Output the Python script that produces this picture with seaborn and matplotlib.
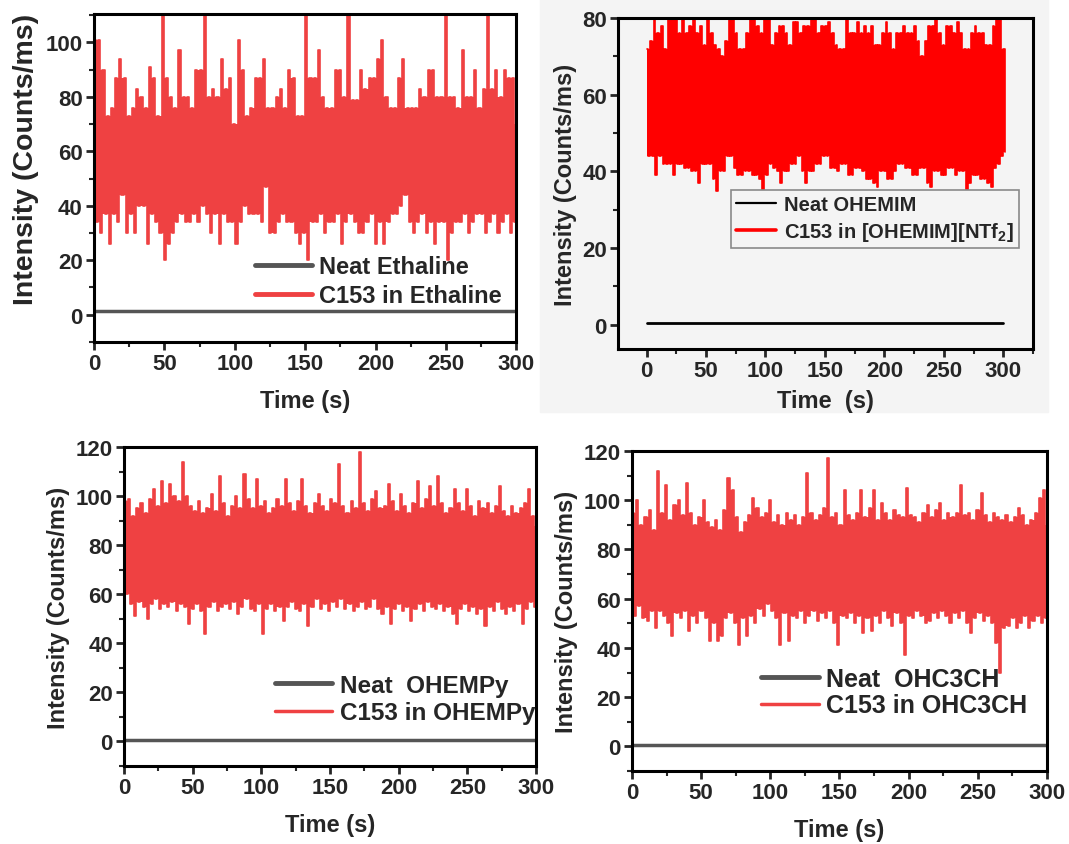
import numpy as np
import matplotlib
matplotlib.use("Agg")
import matplotlib.pyplot as plt
from matplotlib.lines import Line2D
from matplotlib.patches import Rectangle
from matplotlib.ticker import MultipleLocator
import seaborn as sns

# sampling grid of the traces (s), one envelope value every 3 s
TIME = np.arange(0, 301, 3)
NEAT_T = [0, 50, 100, 150, 200, 250, 300]

# Ethaline (top left) - upper / lower envelope of the C153 trace
ETH_HI = [101, 101, 90, 73, 76, 87, 94, 87, 73, 76,
          83, 80, 76, 91, 87, 73, 110, 87, 80, 76,
          97, 80, 80, 76, 90, 90, 110, 80, 83, 80,
          94, 83, 87, 70, 101, 90, 73, 76, 87, 87,
          94, 76, 76, 80, 83, 76, 90, 87, 73, 73,
          110, 87, 87, 97, 80, 76, 76, 90, 90, 80,
          110, 79, 79, 90, 83, 87, 87, 94, 101, 80,
          76, 76, 87, 94, 76, 76, 76, 83, 80, 90,
          90, 80, 80, 110, 80, 80, 76, 97, 80, 80,
          90, 76, 83, 110, 83, 90, 80, 90, 87, 87,
          70]
ETH_LO = [34, 30, 37, 26, 37, 34, 44, 30, 37, 30,
          40, 40, 26, 37, 34, 30, 20, 26, 30, 34,
          37, 34, 34, 37, 34, 40, 37, 30, 37, 26,
          37, 34, 34, 26, 34, 40, 37, 37, 37, 34,
          47, 30, 30, 34, 37, 34, 34, 30, 26, 30,
          20, 34, 34, 37, 30, 34, 34, 37, 26, 34,
          37, 34, 30, 30, 34, 37, 26, 34, 26, 34,
          37, 37, 40, 44, 34, 30, 34, 37, 30, 34,
          26, 34, 34, 20, 30, 34, 34, 37, 30, 34,
          37, 37, 30, 34, 37, 30, 34, 37, 30, 34,
          26]
ETH_NEAT = [1.4, 1.4, 1.4, 1.4, 1.4, 1.4, 1.4]

# [OHEMIM][NTf2] (top right)
IM_HI = [72, 74, 80, 76, 78, 72, 80, 80, 80, 76,
         80, 76, 78, 80, 76, 78, 73, 80, 76, 73,
         72, 70, 74, 80, 80, 76, 72, 72, 76, 80,
         80, 78, 76, 80, 80, 73, 76, 78, 78, 76,
         73, 79, 79, 76, 78, 78, 80, 80, 76, 78,
         78, 79, 76, 73, 72, 72, 80, 76, 76, 79,
         76, 78, 76, 78, 73, 73, 76, 79, 76, 72,
         76, 76, 78, 76, 76, 78, 74, 70, 74, 78,
         78, 80, 76, 73, 78, 78, 76, 79, 76, 72,
         72, 76, 78, 76, 76, 73, 73, 78, 80, 80,
         72]
IM_LO = [44, 44, 39, 44, 42, 42, 42, 39, 42, 42,
         41, 41, 40, 40, 37, 42, 42, 42, 38, 35,
         40, 40, 44, 44, 41, 39, 39, 40, 40, 39,
         39, 38, 35, 39, 42, 41, 40, 37, 40, 40,
         42, 42, 44, 40, 37, 40, 40, 42, 42, 44,
         44, 41, 41, 40, 42, 42, 39, 39, 41, 41,
         40, 38, 38, 37, 36, 40, 40, 38, 38, 40,
         42, 42, 41, 41, 39, 39, 41, 41, 37, 36,
         40, 40, 39, 39, 41, 41, 39, 40, 40, 35,
         37, 39, 39, 38, 38, 37, 36, 41, 42, 44,
         45]
IM_NEAT = [0.5, 0.5, 0.5, 0.5, 0.5, 0.5, 0.5]

# OHEMPy (bottom left)
PY_HI = [98, 99, 92, 95, 97, 93, 99, 103, 96, 106,
         97, 105, 100, 98, 114, 100, 96, 94, 98, 93,
         95, 101, 94, 108, 97, 92, 96, 100, 95, 109,
         99, 95, 107, 96, 98, 93, 95, 99, 96, 107,
         97, 94, 98, 107, 96, 93, 97, 101, 96, 94,
         99, 97, 113, 96, 93, 98, 95, 118, 97, 94,
         99, 102, 95, 96, 105, 98, 94, 101, 96, 93,
         97, 106, 95, 99, 104, 96, 108, 97, 93, 95,
         103, 97, 94, 103, 96, 92, 98, 95, 97, 93,
         96, 104, 94, 92, 96, 93, 95, 97, 103, 92,
         88]
PY_LO = [60, 56, 51, 57, 55, 50, 56, 58, 54, 56,
         55, 57, 53, 56, 55, 48, 54, 56, 53, 44,
         55, 57, 53, 55, 56, 54, 57, 52, 55, 58,
         54, 53, 56, 44, 54, 56, 53, 55, 49, 55,
         57, 54, 53, 56, 47, 55, 58, 54, 56, 53,
         57, 55, 58, 54, 56, 53, 55, 57, 54, 55,
         58, 54, 52, 55, 48, 54, 56, 53, 55, 49,
         54, 56, 53, 57, 55, 54, 56, 53, 55, 52,
         48, 54, 56, 53, 55, 52, 54, 47, 55, 53,
         57, 54, 52, 55, 53, 56, 48, 54, 57, 55,
         60]
PY_NEAT = [0.5, 0.5, 0.5, 0.5, 0.5, 0.5, 0.5]

# OHC3CH (bottom right)
CH_HI = [95, 100, 90, 93, 96, 88, 112, 95, 106, 92,
         98, 100, 94, 107, 95, 90, 93, 100, 91, 89,
         92, 88, 96, 109, 104, 93, 87, 91, 94, 101,
         97, 93, 95, 100, 91, 94, 90, 95, 92, 94,
         90, 93, 111, 95, 92, 94, 97, 117, 93, 95,
         90, 104, 94, 92, 95, 104, 93, 97, 104, 92,
         99, 95, 92, 96, 94, 93, 105, 94, 93, 91,
         95, 98, 93, 96, 99, 92, 95, 93, 95, 106,
         94, 95, 92, 96, 103, 94, 91, 95, 93, 92,
         94, 91, 93, 97, 94, 90, 92, 95, 101, 104,
         90]
CH_LO = [53, 57, 52, 51, 55, 48, 55, 53, 50, 45,
         54, 52, 55, 47, 53, 50, 55, 52, 43, 50,
         43, 45, 52, 54, 50, 41, 52, 45, 53, 50,
         56, 53, 58, 55, 52, 41, 54, 43, 53, 52,
         55, 50, 53, 55, 51, 54, 52, 55, 50, 41,
         53, 52, 54, 50, 53, 46, 52, 47, 53, 50,
         55, 52, 49, 54, 50, 37, 53, 52, 55, 53,
         50, 51, 54, 52, 55, 53, 50, 54, 52, 55,
         50, 46, 52, 54, 51, 53, 50, 42, 30, 48,
         49, 52, 48, 50, 53, 48, 51, 53, 50, 52,
         54]
CH_NEAT = [0.5, 0.5, 0.5, 0.5, 0.5, 0.5, 0.5]

RED = "#ef4142"
PURE_RED = "#ff0000"
GREY = "#555555"
PANEL_BG = "#f4f4f4"

sns.set_style("ticks")
plt.rcParams["font.family"] = ["Liberation Sans", "DejaVu Sans"]
plt.rcParams["font.weight"] = "bold"
plt.rcParams["axes.labelweight"] = "bold"
plt.rcParams["mathtext.fontset"] = "custom"
plt.rcParams["mathtext.rm"] = "Liberation Sans:bold"
plt.rcParams["mathtext.bf"] = "Liberation Sans:bold"
plt.rcParams["mathtext.default"] = "bf"
plt.rcParams["path.simplify"] = False


def draw_trace(ax, hi, lo, neat, red, neat_color, neat_lw):
    hi = np.asarray(hi, float)
    lo = np.asarray(lo, float)
    # each 3 s step: top value, then drop to the bottom value half a step later
    x = np.column_stack([TIME, TIME + 1.5]).ravel()
    y = np.column_stack([hi, lo]).ravel()
    # solid core between the vertical strokes of the trace
    hi_next = np.append(hi[1:], hi[-1])
    lo_prev = np.insert(lo[:-1], 0, lo[0])
    top = np.column_stack([hi, np.minimum(hi, hi_next)]).ravel()
    bot = np.column_stack([np.maximum(lo, lo_prev), lo]).ravel()
    ax.fill_between(x, bot, top, step="post", color=red, lw=0)
    sns.lineplot(x=x, y=y, ax=ax, color=red, lw=1.2, drawstyle="steps-post",
                 estimator=None, sort=False, legend=False)
    sns.lineplot(x=NEAT_T, y=neat, ax=ax, color=neat_color, lw=neat_lw,
                 estimator=None, sort=False, legend=False)


def style_axes(ax, xlim, ylim, yticks, xlabel="Time (s)", ylabel_size=17,
               xpad=11):
    ax.set_xlim(*xlim)
    ax.set_ylim(*ylim)
    ax.set_xticks([0, 50, 100, 150, 200, 250, 300])
    ax.set_yticks(yticks)
    ax.xaxis.set_minor_locator(MultipleLocator(25))
    ax.yaxis.set_minor_locator(MultipleLocator(10))
    ax.tick_params(which="major", direction="out", length=6, width=2,
                   labelsize=16, pad=2)
    ax.tick_params(which="minor", direction="out", length=3.5, width=1.5)
    for sp in ax.spines.values():
        sp.set_linewidth(2.2)
        sp.set_color("black")
    ax.set_xlabel(xlabel, fontsize=17, labelpad=xpad)
    ax.set_ylabel("Intensity (Counts/ms)", fontsize=ylabel_size, labelpad=4)


fig = plt.figure(figsize=(10.69, 8.45), dpi=100)
fig.patches.append(Rectangle((0.5051, 0.5112), 0.4752, 0.4888,
                             transform=fig.transFigure, color=PANEL_BG,
                             zorder=-5))

# top left: Ethaline
ax1 = fig.add_axes([0.0879, 0.5941, 0.3952, 0.3882])
draw_trace(ax1, ETH_HI, ETH_LO, ETH_NEAT, RED, GREY, 2.5)
style_axes(ax1, (0, 300), (-10, 110.4), [0, 20, 40, 60, 80, 100],
           ylabel_size=20.5)
ax1.yaxis.set_label_coords(-0.131, 0.56)
ax1.legend(handles=[Line2D([], [], color=GREY, lw=3.5),
                    Line2D([], [], color=RED, lw=3.5)],
           labels=["Neat Ethaline", "C153 in Ethaline"],
           loc="upper left", bbox_to_anchor=(0.381, 0.265), frameon=False,
           fontsize=17, handlelength=2.4, handletextpad=0.3,
           borderpad=0, borderaxespad=0, labelspacing=0.25)

# top right: [OHEMIM][NTf2]
ax2 = fig.add_axes([0.5781, 0.5858, 0.3882, 0.3917])
ax2.set_facecolor(PANEL_BG)
draw_trace(ax2, IM_HI, IM_LO, IM_NEAT, PURE_RED, "black", 2.0)
style_axes(ax2, (-24, 325), (-6.3, 80), [0, 20, 40, 60, 80],
           xlabel="Time  (s)", xpad=6)
leg2 = ax2.legend(handles=[Line2D([], [], color="black", lw=1.6),
                           Line2D([], [], color=PURE_RED, lw=2.6)],
                  labels=["Neat OHEMIM", "C153 in [OHEMIM][NTf$_2$]"],
                  loc="upper left", bbox_to_anchor=(0.272, 0.48),
                  fontsize=14.5, handlelength=2.0, handletextpad=0.4,
                  borderpad=0.25, borderaxespad=0, labelspacing=0.3,
                  fancybox=False, framealpha=1)
leg2.get_frame().set_edgecolor("#8a8a8a")
leg2.get_frame().set_facecolor(PANEL_BG)
leg2.get_frame().set_linewidth(1.2)

# bottom left: OHEMPy
ax3 = fig.add_axes([0.1160, 0.0923, 0.3854, 0.3775])
draw_trace(ax3, PY_HI, PY_LO, PY_NEAT, RED, GREY, 2.5)
style_axes(ax3, (0, 300), (-10, 120), [0, 20, 40, 60, 80, 100, 120])
ax3.legend(handles=[Line2D([], [], color=GREY, lw=3.5),
                    Line2D([], [], color=RED, lw=2.5)],
           labels=["Neat  OHEMPy", "C153 in OHEMPy"],
           loc="upper left", bbox_to_anchor=(0.367, 0.29), frameon=False,
           fontsize=17.5, handlelength=2.35, handletextpad=0.3,
           borderpad=0, borderaxespad=0, labelspacing=0.2)

# bottom right: OHC3CH
ax4 = fig.add_axes([0.5912, 0.0864, 0.3882, 0.3787])
draw_trace(ax4, CH_HI, CH_LO, CH_NEAT, RED, GREY, 2.5)
style_axes(ax4, (0, 300), (-10, 120), [0, 20, 40, 60, 80, 100, 120])
ax4.legend(handles=[Line2D([], [], color=GREY, lw=3.5),
                    Line2D([], [], color=RED, lw=2.5)],
           labels=["Neat  OHC3CH", "C153 in OHC3CH"],
           loc="upper left", bbox_to_anchor=(0.311, 0.325), frameon=False,
           fontsize=18, handlelength=2.3, handletextpad=0.3,
           borderpad=0, borderaxespad=0, labelspacing=0.1)

fig.savefig("out.png", dpi=100)
